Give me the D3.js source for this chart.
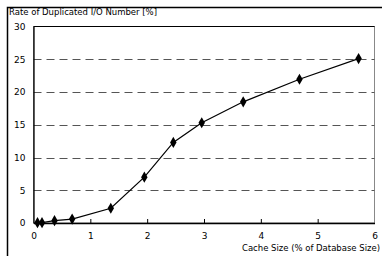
<!DOCTYPE html>
<html><head><meta charset="utf-8">
<script src="https://cdn.jsdelivr.net/npm/d3@7"></script>
<style>body{margin:0;background:#fff}svg{display:block}</style>
</head><body>
<script>
const cacheSize = [0.07, 0.15, 0.37, 0.68, 1.36, 1.95, 2.46, 2.96, 3.69, 4.68, 5.72];
const dupRate   = [0.05, 0.05, 0.35, 0.6, 2.25, 7.0, 12.3, 15.3, 18.5, 21.95, 25.1];
const xTicks = [0, 1, 2, 3, 4, 5, 6];
const yTicks = [0, 5, 10, 15, 20, 25, 30];
const yTitle = "Rate of Duplicated I/O Number [%]";
const xTitle = "Cache Size (% of Database Size)";

const W = 382, H = 256;
const svg = d3.select("body").append("svg").attr("width", W).attr("height", H);
const font = "'DejaVu Sans', sans-serif";

// outer frame
svg.append("path").attr("d", `M7.5,${H} V7.5 H${W}`).attr("fill","none").attr("stroke","#000").attr("stroke-width",1.5);

const x = d3.scaleLinear().domain([0, 6]).range([33.5, 374.5]);
const y = d3.scaleLinear().domain([0, 30]).range([223, 26.5]);

// plot area border
svg.append("rect").attr("x", x(0)).attr("y", y(30)).attr("width", x(6)-x(0)).attr("height", y(0)-y(30))
  .attr("fill","none").attr("stroke","#888").attr("stroke-width",1);

// grid
svg.append("g").selectAll("line").data(yTicks.filter(d => d > 0 && d < 30)).join("line")
  .attr("x1", x(0)).attr("x2", x(6)).attr("y1", d => Math.round(y(d))+0.5).attr("y2", d => Math.round(y(d))+0.5)
  .attr("stroke","#555").attr("stroke-width",1).attr("stroke-dasharray","8,5");

// axes
const xa = svg.append("g").attr("transform", `translate(0,${y(0)})`)
  .call(d3.axisBottom(x).tickValues(xTicks).tickFormat(d3.format("d")).tickSizeInner(-4).tickSizeOuter(0).tickPadding(10));
const ya = svg.append("g").attr("transform", `translate(${x(0)},0)`)
  .call(d3.axisLeft(y).tickValues(yTicks).tickFormat(d3.format("d")).tickSize(0).tickPadding(8));
[xa, ya].forEach(a => {
  a.select(".domain").attr("stroke","#000").attr("stroke-width",1.3);
  a.selectAll(".tick line").attr("stroke","#000");
  a.selectAll("text").attr("font-family", font).attr("font-size", 9).attr("fill","#000");
});
xa.selectAll(".tick").filter(d => d === 0 || d === 6).select("line").remove();
// top plot border dark
svg.append("line").attr("x1", x(0)).attr("x2", x(6)).attr("y1", y(30)).attr("y2", y(30)).attr("stroke","#000").attr("stroke-width",1.2);

// line
const pts = cacheSize.map((c, i) => [c, dupRate[i]]);
svg.append("path").datum(pts)
  .attr("d", d3.line().x(d => x(d[0])).y(d => y(d[1])))
  .attr("fill","none").attr("stroke","#000").attr("stroke-width",1.2);
svg.append("g").selectAll("path").data(pts).join("path")
  .attr("d", d3.symbol().type(d3.symbolDiamond).size(36))
  .attr("transform", d => `translate(${x(d[0])},${y(d[1])})`)
  .attr("fill","#000");

// titles
svg.append("text").attr("x", 9).attr("y", 15).attr("font-family", font).attr("font-size", 8.5)
  .attr("textLength", 148).attr("lengthAdjust","spacing").text(yTitle);
svg.append("text").attr("x", 380).attr("y", 251).attr("text-anchor","end").attr("font-family", font).attr("font-size", 8.5)
  .attr("textLength", 138).attr("lengthAdjust","spacing").text(xTitle);
</script>
</body></html>
